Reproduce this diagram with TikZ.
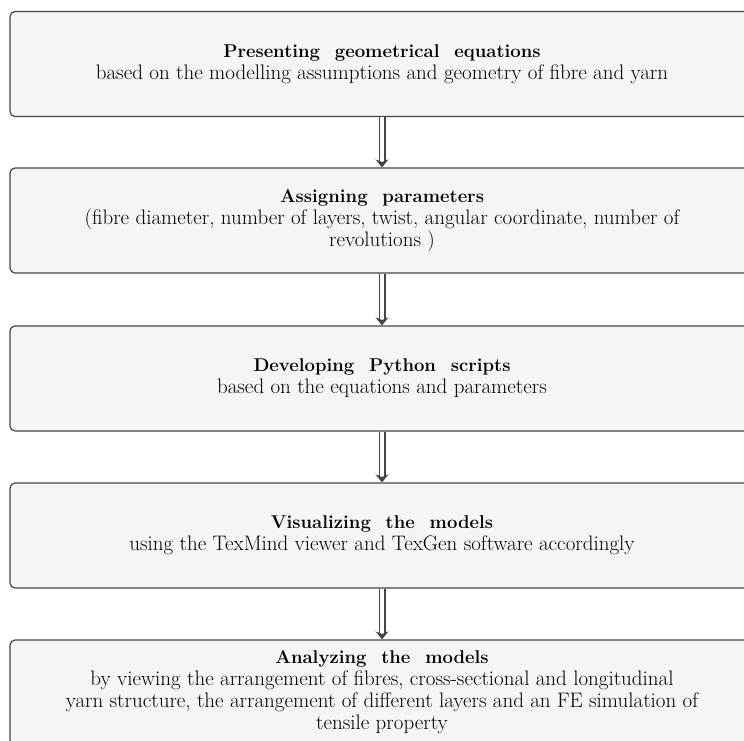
\documentclass[tikz,border=0pt]{standalone}
\usetikzlibrary{arrows.meta}
\definecolor{boxfill}{HTML}{F5F5F5}
\definecolor{boxline}{HTML}{454545}
\newcommand{\stagetitle}[1]{{\fontsize{18.5}{22}\selectfont\bfseries #1}}
\begin{document}
\begin{tikzpicture}[x=1pt,y=-1pt,
  stagebox/.style={draw=boxline, fill=boxfill, line width=1.2pt, rounded corners=5pt,
    minimum width=744pt, minimum height=105pt, inner sep=0pt, align=center,
    font=\fontsize{21}{22}\selectfont},
  flowarrow/.style={draw=boxline, double=white, line width=1.3pt, double distance=4.4pt,
    -{Stealth[length=8pt,width=13pt]}, shorten >=0pt}]
\useasboundingbox (0,0) rectangle (744,740);
\clip (0,0) rectangle (744,740);
\node[stagebox] (b1) at (382,64) {\stagetitle{Presenting\hspace{0.8em}geometrical\hspace{0.8em}equations}\\based on the modelling assumptions and geometry of fibre and yarn};
\node[stagebox] (b2) at (382,220.5) {\stagetitle{Assigning\hspace{0.8em}parameters}\\(fibre diameter, number of layers, twist, angular coordinate, number of\\revolutions )};
\node[stagebox] (b3) at (382,378.5) {\stagetitle{Developing\hspace{0.8em}Python\hspace{0.8em}scripts}\\based on the equations and parameters};
\node[stagebox] (b4) at (382,535.5) {\stagetitle{Visualizing\hspace{0.8em}the\hspace{0.8em}models}\\using the TexMind viewer and TexGen software accordingly};
\node[stagebox] (b5) at (382,692.5) {\stagetitle{Analyzing\hspace{0.8em}the\hspace{0.8em}models}\\by viewing the arrangement of fibres, cross-sectional and longitudinal\\yarn structure, the arrangement of different layers and an FE simulation of\\tensile property};
\draw[flowarrow] (b1.south) -- (b2.north);
\draw[flowarrow] (b2.south) -- (b3.north);
\draw[flowarrow] (b3.south) -- (b4.north);
\draw[flowarrow] (b4.south) -- (b5.north);
\end{tikzpicture}
\end{document}
